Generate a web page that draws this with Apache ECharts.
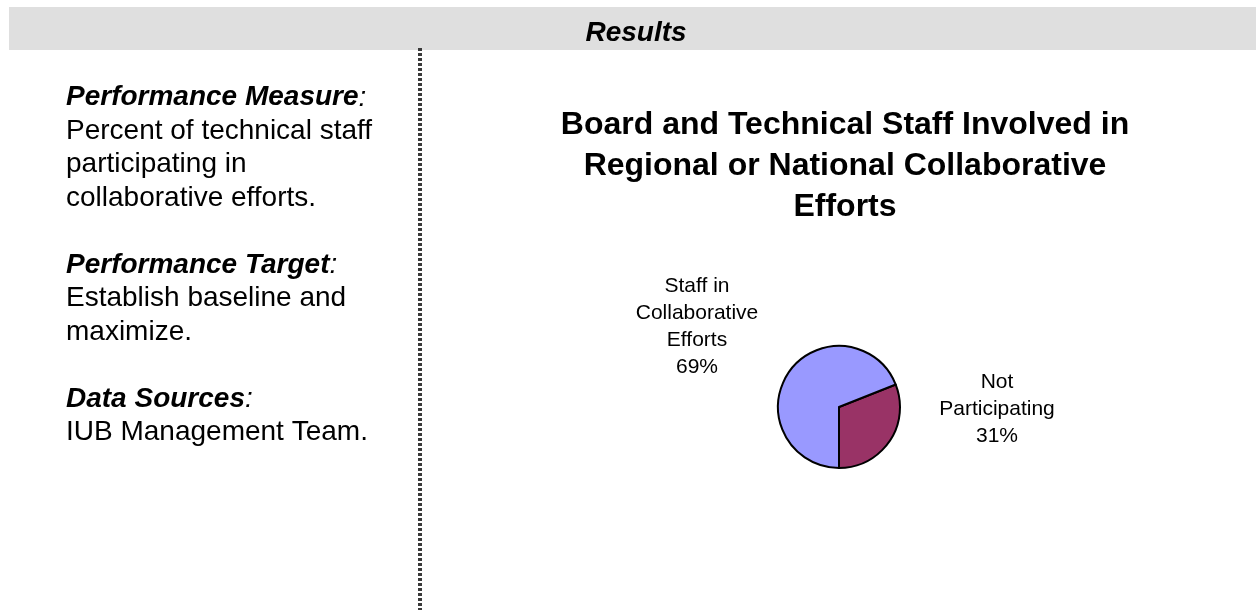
<!DOCTYPE html>
<html>
<head>
<meta charset="utf-8">
<script src="https://cdn.jsdelivr.net/npm/echarts@6/dist/echarts.min.js"></script>
<style>
  html, body { margin: 0; padding: 0; background: #fff; }
  #chart { width: 1256px; height: 610px; }
</style>
</head>
<body>
<div id="chart"></div>
<script>
// data
const sliceNames = ['Not\nParticipating', 'Staff in\nCollaborative\nEfforts'];
const sliceValues = [31, 69];
const sliceColors = ['#993366', '#9999FF'];

const chartTitle = 'Board and Technical Staff Involved in\nRegional or National Collaborative\nEfforts';
const bandTitle = 'Results';
const sideNotes = [
  { head: 'Performance Measure', body: ['Percent of technical staff', 'participating in', 'collaborative efforts.'] },
  { head: 'Performance Target', body: ['Establish baseline and', 'maximize.'] },
  { head: 'Data Sources', body: ['IUB Management Team.'] }
];

const FONT = '"Liberation Sans", Arial, sans-serif';

// pie geometry
const pieCenter = [839, 407];
const pieRadius = 61;
// label centres relative to pie centre
const labelOffsets = [[158, 0], [-142, -82]];

// left-hand notes as rich text
let lines = [];
sideNotes.forEach((n, i) => {
  if (i > 0) lines.push('{t| }');
  lines.push('{h|' + n.head + '}{c|:}');
  n.body.forEach(b => lines.push('{t|' + b + '}'));
});

const myChart = echarts.init(document.getElementById('chart'));
myChart.setOption({
  backgroundColor: '#fff',
  animation: false,
  title: {
    text: chartTitle,
    left: 840,
    top: 100,
    textAlign: 'center',
    textStyle: {
      fontFamily: FONT,
      fontSize: 32,
      fontWeight: 'bold',
      color: '#000',
      lineHeight: 41
    }
  },
  graphic: [
    {
      type: 'rect',
      shape: { x: 9, y: 7, width: 1247, height: 43 },
      style: { fill: '#DFDFDF' },
      z: 1
    },
    {
      type: 'text',
      x: 636,
      y: 33,
      style: {
        text: bandTitle,
        fontFamily: FONT,
        fontSize: 28,
        fontWeight: 'bold',
        fontStyle: 'italic',
        fill: '#000',
        align: 'center',
        verticalAlign: 'middle'
      },
      z: 2
    },
    {
      type: 'line',
      shape: { x1: 420, y1: 48, x2: 420, y2: 610 },
      style: { stroke: '#3a3a3a', lineWidth: 4, lineDash: [3, 2] },
      z: 2
    },
    {
      type: 'text',
      x: 66,
      y: 81,
      style: {
        text: lines.join('\n'),
        fontFamily: FONT,
        fill: '#000',
        rich: {
          h: { fontFamily: FONT, fontSize: 28, fontWeight: 'bold', fontStyle: 'italic', lineHeight: 33.5 },
          c: { fontFamily: FONT, fontSize: 28, fontStyle: 'italic', lineHeight: 33.5 },
          t: { fontFamily: FONT, fontSize: 28, lineHeight: 33.5 }
        }
      },
      z: 2
    }
  ],
  color: sliceColors,
  series: [
    {
      type: 'pie',
      center: pieCenter,
      radius: [0, pieRadius],
      startAngle: 270,
      clockwise: false,
      itemStyle: { borderColor: '#000', borderWidth: 2 },
      label: {
        show: true,
        position: 'outside',
        formatter: '{b}\n{d}%',
        fontFamily: FONT,
        fontSize: 21,
        lineHeight: 27,
        color: '#000',
        align: 'center'
      },
      labelLine: { show: false },
      labelLayout: function (params) {
        const off = labelOffsets[params.dataIndex];
        return {
          x: pieCenter[0] + off[0],
          y: pieCenter[1] + off[1] + 2,
          align: 'center',
          verticalAlign: 'middle'
        };
      },
      emphasis: { disabled: true },
      data: sliceNames.map((n, i) => ({ name: n, value: sliceValues[i] }))
    }
  ]
});
</script>
</body>
</html>
